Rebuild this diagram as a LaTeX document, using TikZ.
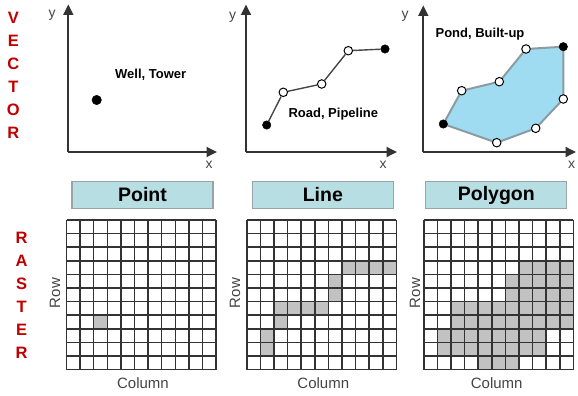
\documentclass[tikz,border=0pt]{standalone}
\usepackage{fontspec}
\setmainfont{Liberation Sans}
\usetikzlibrary{arrows.meta,backgrounds}
\definecolor{redlab}{HTML}{C00000}
\definecolor{boxfill}{HTML}{B6DEE3}
\definecolor{boxline}{HTML}{9AA4A6}
\definecolor{axisc}{HTML}{333333}
\definecolor{labgray}{HTML}{444444}
\definecolor{cellgray}{HTML}{C2C2C2}
\definecolor{polyfill}{HTML}{9FDCF2}
\definecolor{polyedge}{HTML}{8A9CA2}
\tikzset{
  redletter/.style={text=redlab,font=\fontsize{16.5}{16.5}\selectfont\bfseries,inner sep=0pt},
  axisline/.style={draw=axisc,line width=1.8pt,-{Triangle[length=10.5pt,width=10pt]}},
  axislab/.style={text=labgray,font=\fontsize{14}{14}\selectfont,inner sep=0pt},
  featlab/.style={font=\fontsize{13}{13}\selectfont\bfseries,inner sep=0pt},
  fullpt/.style={circle,fill=black,draw=black,minimum size=8.5pt,inner sep=0pt},
  openpt/.style={circle,fill=white,draw=black,line width=1pt,minimum size=8.5pt,inner sep=0pt},
  vline/.style={draw=axisc!90,line width=1.4pt},
  pedge/.style={draw=polyedge,line width=2pt,fill=polyfill,line join=round},
  typebox/.style={draw=boxline,fill=boxfill,line width=1.3pt,minimum width=141pt,minimum height=26.5pt,inner sep=0pt,font=\fontsize{19.5}{19.5}\selectfont\bfseries},
  gridline/.style={draw=axisc,line width=1.5pt},
  rclab/.style={text=labgray,font=\fontsize{15}{15}\selectfont,inner sep=0pt},
}
\newcommand\rastergrid[1]{%
  \foreach \i in {0,...,11} {
    \draw[gridline] (\i*13.6,0) -- (\i*13.6,149.6);
    \draw[gridline] (0,\i*13.6) -- (149.6,\i*13.6);
  }
}
\begin{document}
\begin{tikzpicture}[x=1pt,y=-1pt]
\useasboundingbox (0,0) rectangle (578,396);

% side labels
\foreach \l [count=\k from 0] in {V,E,C,T,O,R}
  \node[redletter] (vec\k) at (13.3,18+23*\k) {\l};
\foreach \l [count=\k from 0] in {R,A,S,T,E,R}
  \node[redletter] (ras\k) at (21.7,238+23*\k) {\l};

% ---------- panel 1: point ----------
\coordinate (o1) at (68.3,152);
\coordinate (y1) at (68.3,4.5);
\coordinate (x1) at (217,152);
\draw[axisline] (o1) -- (y1);
\draw[axisline] (o1) -- (x1);
\node[axislab] (ly1) at (52,15) {y};
\node[axislab] (lx1) at (209,165) {x};
\node[fullpt,minimum size=9.5pt] (well) at (96.7,100) {};
\node[featlab] (wt) at (150.7,75) {Well, Tower};

% ---------- panel 2: line ----------
\coordinate (o2) at (246,152);
\coordinate (y2) at (246,4.5);
\coordinate (x2) at (397,152);
\draw[axisline] (o2) -- (y2);
\draw[axisline] (o2) -- (x2);
\node[axislab] (ly2) at (232.7,17) {y};
\node[axislab] (lx2) at (383,165) {x};
\node[fullpt] (l1) at (266.7,125) {};
\node[openpt] (l2) at (283.3,92.3) {};
\node[openpt] (l3) at (321.7,84) {};
\node[openpt] (l4) at (348.3,50.7) {};
\node[fullpt] (l5) at (385,49) {};
\draw[vline] (l1) -- (l2) -- (l3) -- (l4) -- (l5);
\node[featlab] (rp) at (333.3,114) {Road, Pipeline};

% ---------- panel 3: polygon ----------
\coordinate (o3) at (423.3,152);
\coordinate (y3) at (423.3,5.5);
\coordinate (x3) at (576,152);
\draw[axisline] (o3) -- (y3);
\draw[axisline] (o3) -- (x3);
\node[axislab] (ly3) at (405,16) {y};
\node[axislab] (lx3) at (571.7,165) {x};
\node[fullpt] (p1) at (443.3,124) {};
\node[openpt] (p2) at (461.7,90.7) {};
\node[openpt] (p3) at (499.3,81.7) {};
\node[openpt] (p4) at (526,49) {};
\node[fullpt] (p5) at (563.3,46.7) {};
\node[openpt] (p6) at (563.3,99) {};
\node[openpt] (p7) at (535.7,128.3) {};
\node[openpt] (p8) at (496.7,142.7) {};
\begin{scope}[on background layer]
\draw[pedge] (p1.center) -- (p2.center) -- (p3.center) -- (p4.center) -- (p5.center)
  -- (p6.center) -- (p7.center) -- (p8.center) -- cycle;
\end{scope}
\node[featlab] (pb) at (480,34.3) {Pond, Built-up};

% ---------- type boxes ----------
\node[typebox] (bpoint) at (142.5,195) {Point};
\node[typebox] (bline) at (322.8,195) {Line};
\node[typebox] (bpoly) at (496.3,195) {Polygon};

% ---------- rasters ----------
\begin{scope}[shift={(66.5,220)}]
  \foreach \c/\r in {2/7}
    \fill[cellgray] (\c*13.6,\r*13.6) rectangle ++(13.6,13.6);
  \rastergrid{}
\end{scope}
\begin{scope}[shift={(246.8,220)}]
  \foreach \c/\r in {7/3,8/3,9/3,10/3,6/4,6/5,2/6,3/6,4/6,5/6,2/7,1/8,1/9}
    \fill[cellgray] (\c*13.6,\r*13.6) rectangle ++(13.6,13.6);
  \rastergrid{}
\end{scope}
\begin{scope}[shift={(423.8,220)}]
  \foreach \r/\a/\b in {3/7/10,4/6/10,5/6/10,6/2/10,7/2/10,8/1/8,9/1/8,10/4/6}
    \foreach \c in {\a,...,\b}
      \fill[cellgray] (\c*13.6,\r*13.6) rectangle ++(13.6,13.6);
  \rastergrid{}
\end{scope}

\node[rclab,rotate=90] (row1) at (55,293) {Row};
\node[rclab,rotate=90] (row2) at (235,293) {Row};
\node[rclab,rotate=90] (row3) at (415,293) {Row};
\node[rclab] (col1) at (143,383) {Column};
\node[rclab] (col2) at (323.3,383) {Column};
\node[rclab] (col3) at (496.7,383) {Column};
\end{tikzpicture}
\end{document}
